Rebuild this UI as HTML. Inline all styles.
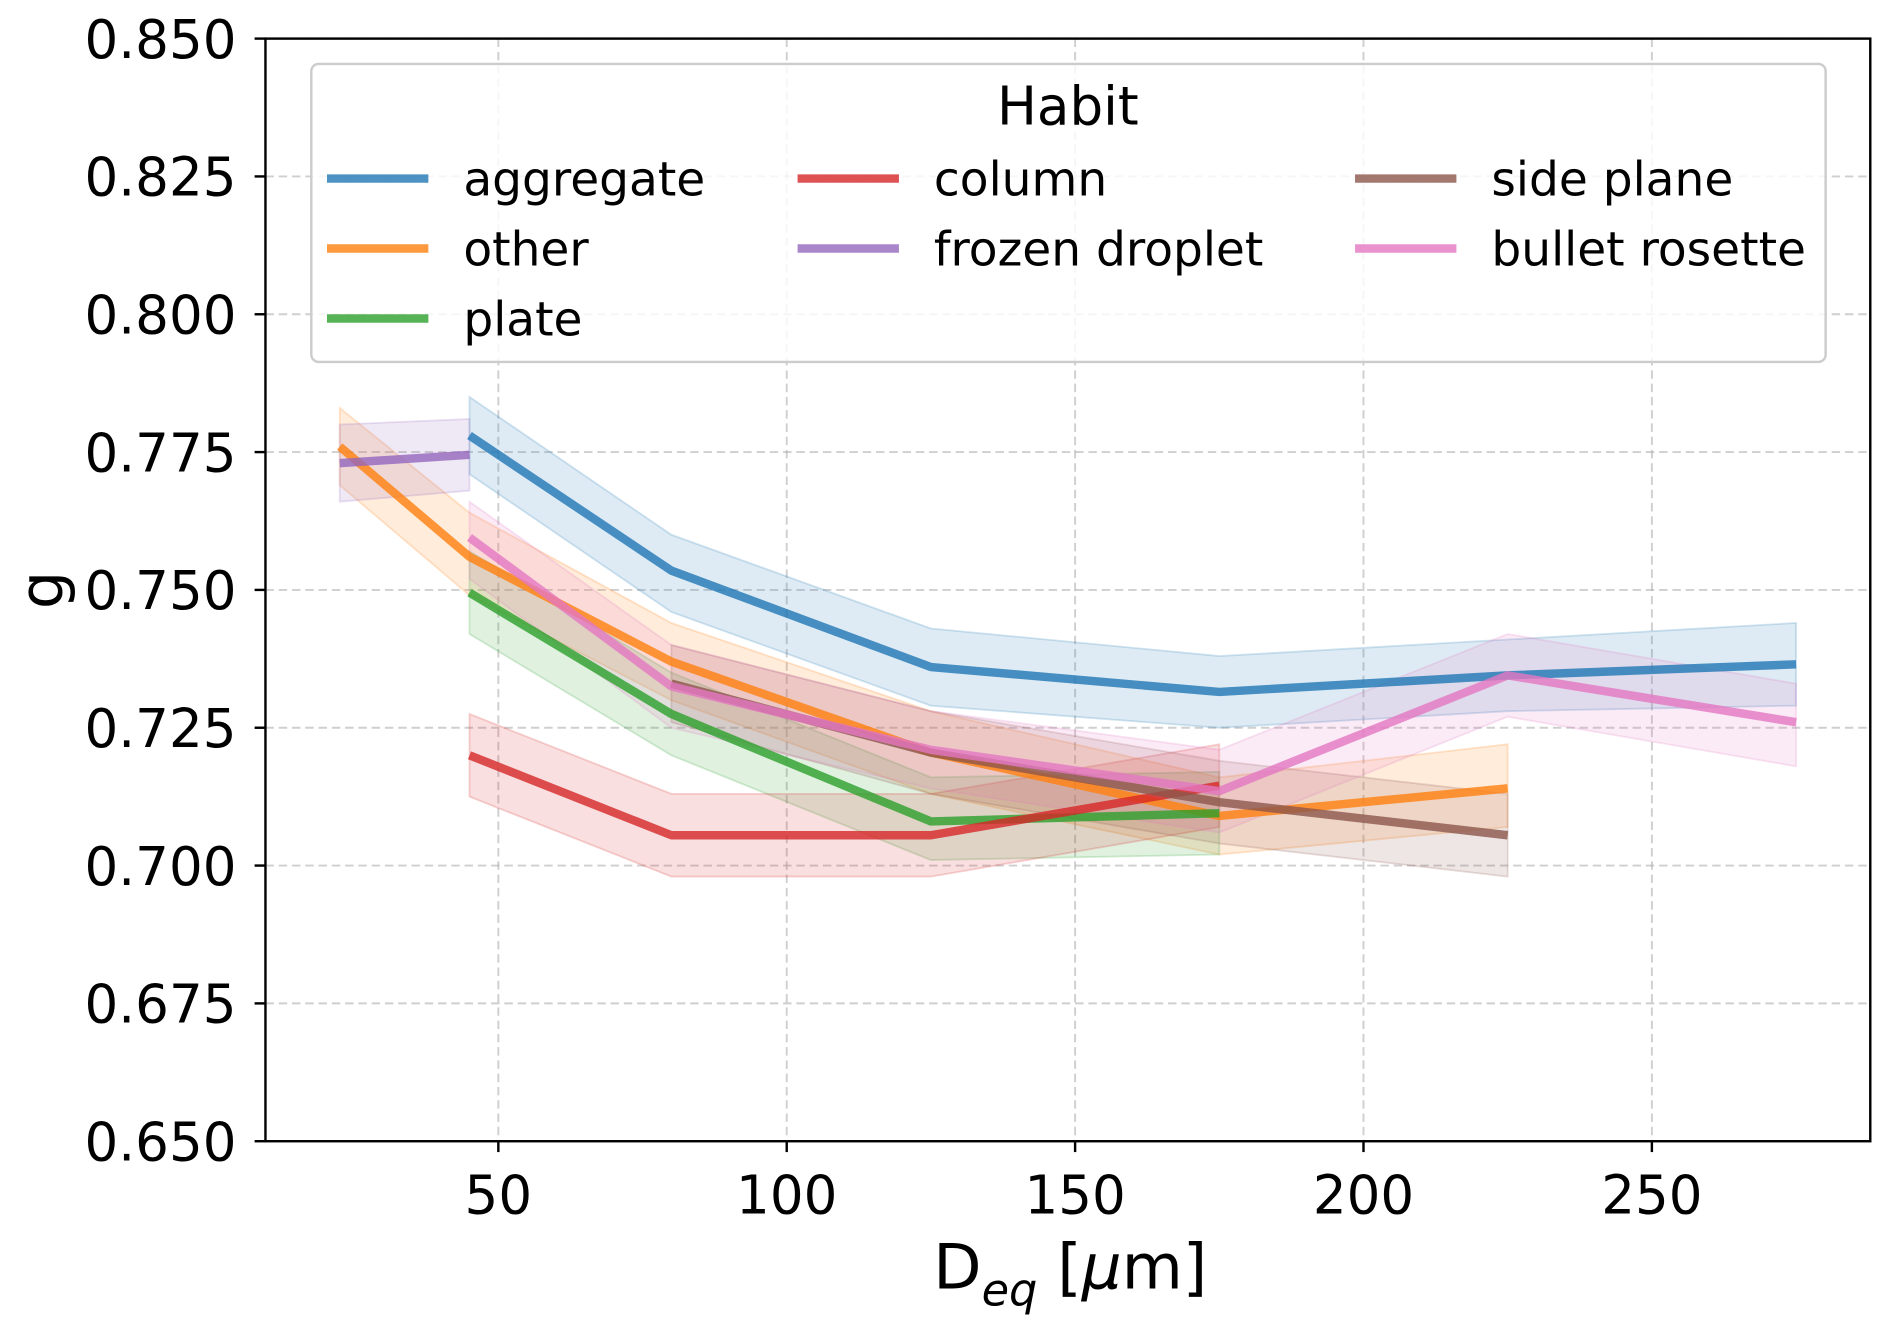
<!DOCTYPE html>
<html><head><meta charset="utf-8"><style>
html,body{margin:0;padding:0;background:#fff}
svg{display:block;font-family:"DejaVu Sans","Liberation Sans",sans-serif}
</style></head><body>
<svg id="chart" width="1892" height="1327" viewBox="0 0 1568 1100" preserveAspectRatio="none" xmlns="http://www.w3.org/2000/svg">
<g id="grid"></g>
<g id="bands"></g>
<g id="lines"></g>
<rect x="220" y="32" width="1330" height="914" fill="none" stroke="#000" stroke-width="2"/>
<g id="ticks"></g>
<text x="887" y="1068" font-size="52" text-anchor="middle">D<tspan font-size="37" font-style="italic" dy="14">eq</tspan><tspan dy="-14"> [</tspan><tspan font-style="italic">μ</tspan>m]</text>
<text x="52" y="489" font-size="50" text-anchor="middle" transform="rotate(-90 52 489)">g</text>
<g>
<rect x="258" y="53" width="1255" height="247" rx="6" fill="#fff" fill-opacity="0.8" stroke="#ccc" stroke-width="2"/>
<text x="885" y="103" font-size="44" text-anchor="middle">Habit</text>
<g id="legendEntries"></g>
</g>
</svg>
<script>
const xTicks=[50,100,150,200,250];
const yTicks=[0.650,0.675,0.700,0.725,0.750,0.775,0.800,0.825,0.850];
const seriesNames=["aggregate","other","plate","column","frozen droplet","side plane","bullet rosette"];
const seriesColors=["#1f77b4","#ff7f0e","#2ca02c","#d62728","#9467bd","#8c564b","#e377c2"];
const aggX=[45,80,125,175,225,275];
const aggY=[0.778,0.7535,0.736,0.7315,0.7345,0.7365];
const aggLo=[0.771,0.746,0.729,0.725,0.728,0.729];
const aggHi=[0.785,0.760,0.743,0.738,0.741,0.744];
const othX=[22.5,45,80,125,175,225];
const othY=[0.776,0.756,0.737,0.7205,0.709,0.714];
const othLo=[0.769,0.749,0.730,0.713,0.702,0.707];
const othHi=[0.783,0.764,0.744,0.728,0.716,0.722];
const plaX=[45,80,125,175];
const plaY=[0.7495,0.7275,0.708,0.7095];
const plaLo=[0.742,0.720,0.701,0.702];
const plaHi=[0.757,0.735,0.716,0.717];
const colX=[45,80,125,175];
const colY=[0.720,0.7055,0.7055,0.7145];
const colLo=[0.7125,0.698,0.698,0.707];
const colHi=[0.7275,0.713,0.713,0.722];
const froX=[22.5,45];
const froY=[0.773,0.7745];
const froLo=[0.766,0.768];
const froHi=[0.780,0.781];
const sidX=[80,125,175,225];
const sidY=[0.733,0.7205,0.7115,0.7055];
const sidLo=[0.726,0.713,0.704,0.698];
const sidHi=[0.740,0.728,0.719,0.713];
const bulX=[45,80,125,175,225,275];
const bulY=[0.7595,0.7325,0.721,0.7135,0.7345,0.726];
const bulLo=[0.752,0.725,0.714,0.706,0.727,0.718];
const bulHi=[0.766,0.740,0.728,0.721,0.742,0.733];

const NS="http://www.w3.org/2000/svg";
const L=220,R=1550,T=32,B=946;
function sx(v){return 174+v*(652-413)/50;}
function sy(v){return B-(v-0.65)/0.2*(B-T);}
function mk(tag,parent){const e=document.createElementNS(NS,tag);document.getElementById(parent).appendChild(e);return e;}

xTicks.forEach(v=>{
  const g=mk("line","grid");
  
  
  g.setAttribute("x1",sx(v));g.setAttribute("x2",sx(v));g.setAttribute("y1",T);g.setAttribute("y2",B);
  g.setAttribute("stroke","#b0b0b0");g.setAttribute("stroke-width","1.6");g.setAttribute("stroke-dasharray","7,4");g.setAttribute("opacity","0.6");
  const t=mk("line","ticks");
  
  
  t.setAttribute("x1",sx(v));t.setAttribute("x2",sx(v));t.setAttribute("y1",B);t.setAttribute("y2",B+9);t.setAttribute("stroke","#000");t.setAttribute("stroke-width","2");
  const l=mk("text","ticks");
  
  
  l.setAttribute("x",sx(v));l.setAttribute("y",B+60);l.setAttribute("font-size","44");l.setAttribute("text-anchor","middle");l.textContent=v;
});
yTicks.forEach(v=>{
  const g=mk("line","grid");
  
  
  g.setAttribute("x1",L);g.setAttribute("x2",R);g.setAttribute("y1",sy(v));g.setAttribute("y2",sy(v));
  g.setAttribute("stroke","#b0b0b0");g.setAttribute("stroke-width","1.6");g.setAttribute("stroke-dasharray","7,4");g.setAttribute("opacity","0.6");
  const t=mk("line","ticks");
  
  
  t.setAttribute("x1",L-9);t.setAttribute("x2",L);t.setAttribute("y1",sy(v));t.setAttribute("y2",sy(v));t.setAttribute("stroke","#000");t.setAttribute("stroke-width","2");
  const l=mk("text","ticks");
  
  
  l.setAttribute("x",L-24);l.setAttribute("y",sy(v)+16);l.setAttribute("font-size","44");l.setAttribute("text-anchor","end");l.textContent=v.toFixed(3);
});

const allX=[aggX,othX,plaX,colX,froX,sidX,bulX];
const allY=[aggY,othY,plaY,colY,froY,sidY,bulY];
const allLo=[aggLo,othLo,plaLo,colLo,froLo,sidLo,bulLo];
const allHi=[aggHi,othHi,plaHi,colHi,froHi,sidHi,bulHi];
seriesNames.forEach((n,i)=>{
  const xs=allX[i];
  let d=xs.map((x,j)=>(j?"L":"M")+sx(x)+","+sy(allHi[i][j])).join("");
  for(let j=xs.length-1;j>=0;j--) d+="L"+sx(xs[j])+","+sy(allLo[i][j]);
  const b=mk("path","bands");
  
  
  b.setAttribute("d",d+"Z");b.setAttribute("fill",seriesColors[i]);b.setAttribute("fill-opacity","0.15");b.setAttribute("stroke",seriesColors[i]);b.setAttribute("stroke-opacity","0.2");b.setAttribute("stroke-width","1.5");
});
seriesNames.forEach((n,i)=>{
  const xs=allX[i];
  const p=mk("polyline","lines");
  
  
  p.setAttribute("points",xs.map((x,j)=>sx(x)+","+sy(allY[i][j])).join(" "));
  p.setAttribute("fill","none");p.setAttribute("stroke",seriesColors[i]);p.setAttribute("stroke-width","7");p.setAttribute("stroke-opacity","0.8");p.setAttribute("stroke-linejoin","round");
});
const colXs=[271,661,1123];
const rowYs=[148,206,264];
const perCol=[3,2,2];
let k=0;
perCol.forEach((cnt,c)=>{
  for(let r=0;r<cnt;r++,k++){
    const ln=mk("line","legendEntries");
    
    
    ln.setAttribute("x1",colXs[c]);ln.setAttribute("x2",colXs[c]+84);ln.setAttribute("y1",rowYs[r]);ln.setAttribute("y2",rowYs[r]);
    ln.setAttribute("stroke",seriesColors[k]);ln.setAttribute("stroke-width","7");ln.setAttribute("stroke-opacity","0.8");
    const tx=mk("text","legendEntries");
    
    
    tx.setAttribute("x",colXs[c]+113);tx.setAttribute("y",rowYs[r]+14);tx.setAttribute("font-size","39");tx.textContent=seriesNames[k];
  }
});
</script>
</body></html>
